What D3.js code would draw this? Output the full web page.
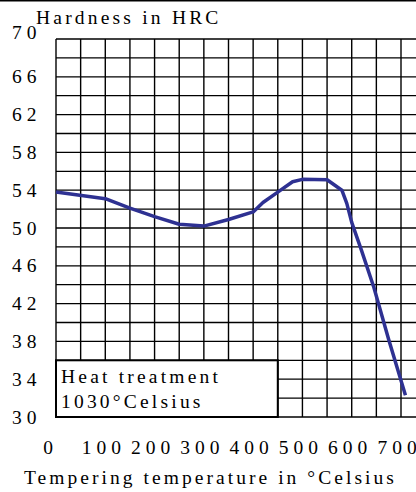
<!DOCTYPE html>
<html>
<head>
<meta charset="utf-8">
<script src="https://cdn.jsdelivr.net/npm/d3@7"></script>
<style>
  html, body { margin: 0; padding: 0; background: #fff; }
  svg { display: block; }
  text { font-family: "Liberation Serif", "Times New Roman", serif; fill: #000; }
</style>
</head>
<body>
<svg id="chart" width="416" height="492"></svg>
<script>
// ---- data ----
const temperatures = [0, 100, 150, 200, 250, 300, 350, 400, 420, 450, 480, 500, 550, 580, 590, 600, 620, 645, 675, 709];
const hardness     = [53.8, 53.1, 52.1, 51.2, 50.4, 50.2, 50.9, 51.7, 52.7, 53.8, 54.9, 55.15, 55.1, 54.0, 52.6, 50.6, 47.6, 43.7, 38.2, 32.3];
const xTickValues  = [0, 100, 200, 300, 400, 500, 600, 700];
const yTickValues  = [70, 66, 62, 58, 54, 50, 46, 42, 38, 34, 30];
const yTitle = "Hardness in HRC";
const xTitle = "Tempering temperature in °Celsius";
const legendLines = ["Heat treatment", "1030°Celsius"];

// ---- layout ----
const W = 416, H = 492;
const FS = 19.5;
const svg = d3.select("#chart");
const x = d3.scaleLinear().domain([0, 700]).range([56, 401]);
const y = d3.scaleLinear().domain([30, 70]).range([417, 39]);
const xMax = x.invert(W);

// spaced digits without trailing spacing: per-glyph dx list
function spaced(sel, gap) {
  sel.attr("dx", d => String(d).split("").map((c, i) => i === 0 ? 0 : gap).join(" "));
}

// top border line
svg.append("line").attr("x1", 0).attr("x2", W).attr("y1", 0.75).attr("y2", 0.75)
  .attr("stroke", "#000").attr("stroke-width", 1.5);

// grid
const g = svg.append("g");
g.selectAll("line.h").data(d3.range(30, 71, 2)).join("line")
  .attr("x1", x(0)).attr("x2", W)
  .attr("y1", d => y(d)).attr("y2", d => y(d))
  .attr("stroke", "#000").attr("stroke-width", 1.3);
g.selectAll("line.v").data(d3.range(0, xMax, 50)).join("line")
  .attr("x1", d => x(d)).attr("x2", d => x(d))
  .attr("y1", y(70)).attr("y2", y(30))
  .attr("stroke", "#000").attr("stroke-width", 1.4);

// curve
const pts = temperatures.map((t, i) => [t, hardness[i]]);
svg.append("path").datum(pts)
  .attr("d", d3.line().x(d => x(d[0])).y(d => y(d[1])).curve(d3.curveLinear))
  .attr("fill", "none").attr("stroke", "#2E3192").attr("stroke-width", 3.5)
  .attr("stroke-linejoin", "round");

// legend box
svg.append("rect")
  .attr("x", x(0)).attr("y", y(36))
  .attr("width", x(450) - x(0)).attr("height", y(30) - y(36))
  .attr("fill", "#fff").attr("stroke", "#000").attr("stroke-width", 2);
svg.selectAll("text.leg").data(legendLines).join("text")
  .attr("class", "leg")
  .attr("x", x(0) + 5)
  .attr("y", (d, i) => y(36) + 23 + i * 25)
  .attr("font-size", FS).attr("letter-spacing", 3.2)
  .text(d => d);

// y tick labels
svg.selectAll("text.yl").data(yTickValues).join("text")
  .attr("class", "yl")
  .attr("x", 12)
  .attr("y", (d, i) => y(d) + (i === 0 ? 0 : 6.5))
  .attr("font-size", FS)
  .text(d => d)
  .call(spaced, 5);

// x tick labels (centred under their value, slightly left as in the reference)
svg.selectAll("text.xl").data(xTickValues).join("text")
  .attr("class", "xl")
  .attr("y", 454)
  .attr("font-size", FS)
  .text(d => d)
  .call(spaced, 5)
  .attr("x", function(d, i) {
    const w = this.getComputedTextLength() + (String(d).length - 1) * 5;
    return x(d) - w / 2 - (i === 0 ? 8 : 4);
  });

// titles
svg.append("text").attr("x", 36).attr("y", 24)
  .attr("font-size", FS).attr("letter-spacing", 3.2).text(yTitle);
svg.append("text").attr("x", 24).attr("y", 484)
  .attr("font-size", FS).attr("letter-spacing", 3.05).text(xTitle);
</script>
</body>
</html>
